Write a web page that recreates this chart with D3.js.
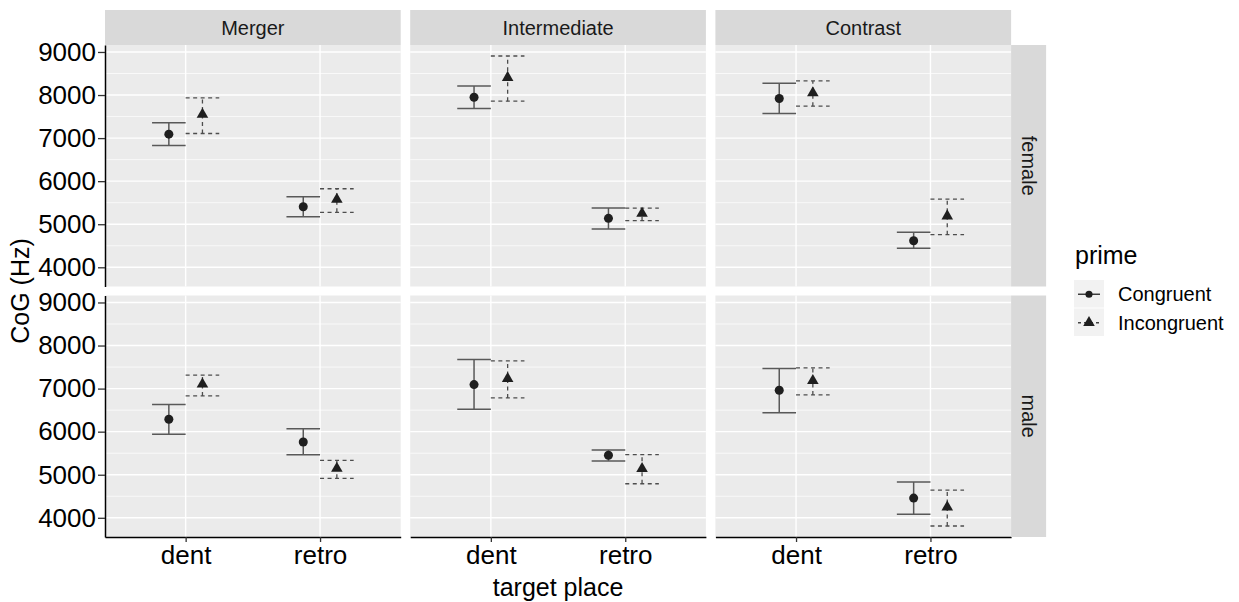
<!DOCTYPE html>
<html>
<head>
<meta charset="utf-8">
<script src="https://cdn.jsdelivr.net/npm/d3@7"></script>
<style>
  body { margin: 0; background: #fff; }
  svg text { font-family: "Liberation Sans", Arial, Helvetica, sans-serif; }
</style>
</head>
<body>
<div class="chart-area"></div>
<script>
// facets and categories
const conditions = ["Merger", "Intermediate", "Contrast"];
const sexes = ["female", "male"];
const places = ["dent", "retro"];
const primes = ["Congruent", "Incongruent"];
const yTicks = [4000, 5000, 6000, 7000, 8000, 9000];

// values ordered: female (Merger dent, Merger retro, Intermediate dent, Intermediate retro, Contrast dent, Contrast retro), then male
const congruentMean = [7092, 5406, 7950, 5137, 7920, 4618, 6288, 5760, 7093, 5451, 6963, 4458];
const congruentLow  = [6829, 5174, 7688, 4889, 7572, 4442, 5940, 5465, 6521, 5319, 6442, 4084];
const congruentHigh = [7354, 5638, 8212, 5376, 8274, 4813, 6628, 6070, 7674, 5574, 7465, 4830];
const incongruentMean = [7548, 5578, 8406, 5253, 8050, 5190, 7102, 5149, 7233, 5140, 7186, 4249];
const incongruentLow  = [7107, 5277, 7857, 5082, 7741, 4757, 6830, 4916, 6784, 4791, 6853, 3809];
const incongruentHigh = [7934, 5824, 8907, 5376, 8328, 5585, 7312, 5335, 7644, 5465, 7481, 4644];

const width = 1239;
const height = 602;

const marginLeft = 105, marginTop = 45;
const panelW = 295.7, panelH = 241.5;
const gapX = 9.5, gapY = 9;
const stripH = 35, stripW = 35;

const svg = d3.select(".chart-area")
    .append("svg")
    .attr("width", width)
    .attr("height", height);

// build rows
const rows = [];
sexes.forEach((sex, si) => {
    conditions.forEach((cond, ci) => {
        places.forEach((place, pi) => {
            const k = si * 6 + ci * 2 + pi;
            rows.push({sex: si, cond: ci, place: pi, prime: 0,
                mean: congruentMean[k], low: congruentLow[k], high: congruentHigh[k]});
            rows.push({sex: si, cond: ci, place: pi, prime: 1,
                mean: incongruentMean[k], low: incongruentLow[k], high: incongruentHigh[k]});
        });
    });
});

const yMin = d3.min(rows, d => d.low);
const yMax = d3.max(rows, d => d.high);
const pad = (yMax - yMin) * 0.05;

const x = d3.scaleLinear().domain([0.4, 2.6]).range([0, panelW]);
const y = d3.scaleLinear().domain([yMin - pad, yMax + pad]).range([panelH, 0]);

const dodge = 0.125;   // position_dodge
const barW = 0.25;     // errorbar width

const minorTicks = d3.range(4500, 9000, 1000);

sexes.forEach((sex, si) => {
    conditions.forEach((cond, ci) => {
        const px = marginLeft + ci * (panelW + gapX);
        const py = marginTop + si * (panelH + gapY);
        const g = svg.append("g").attr("transform", `translate(${px},${py})`);

        g.append("rect")
            .attr("width", panelW)
            .attr("height", panelH)
            .attr("fill", "#ebebeb");

        g.selectAll(".minor").data(minorTicks.filter(t => y(t) > 0 && y(t) < panelH))
            .enter().append("line")
            .attr("x1", 0).attr("x2", panelW)
            .attr("y1", d => y(d)).attr("y2", d => y(d))
            .attr("stroke", "#fff").attr("stroke-width", 0.7);

        g.selectAll(".major").data(yTicks)
            .enter().append("line")
            .attr("x1", 0).attr("x2", panelW)
            .attr("y1", d => y(d)).attr("y2", d => y(d))
            .attr("stroke", "#fff").attr("stroke-width", 1.4);

        g.selectAll(".vgrid").data(places)
            .enter().append("line")
            .attr("x1", (d, i) => x(i + 1)).attr("x2", (d, i) => x(i + 1))
            .attr("y1", 0).attr("y2", panelH)
            .attr("stroke", "#fff").attr("stroke-width", 1.4);

        const data = rows.filter(d => d.sex === si && d.cond === ci);

        // error bars
        data.forEach(d => {
            const cx = d.place + 1 + (d.prime === 0 ? -dodge : dodge);
            const dash = d.prime === 0 ? null : "4,3.5";
            const col = d.prime === 0 ? "#595959" : "#4d4d4d";
            const sw = d.prime === 0 ? 1.5 : 1.3;
            g.append("line")
                .attr("x1", x(cx)).attr("x2", x(cx))
                .attr("y1", y(d.low)).attr("y2", y(d.high))
                .attr("stroke", col).attr("stroke-width", sw)
                .attr("stroke-dasharray", dash);
            [d.low, d.high].forEach(v => {
                g.append("line")
                    .attr("x1", x(cx - barW / 2)).attr("x2", x(cx + barW / 2))
                    .attr("y1", y(v)).attr("y2", y(v))
                    .attr("stroke", col).attr("stroke-width", sw)
                    .attr("stroke-dasharray", dash);
            });
        });

        // points
        g.selectAll(".pt").data(data)
            .enter().append("path")
            .attr("transform", d => `translate(${x(d.place + 1 + (d.prime === 0 ? -dodge : dodge))},${y(d.mean)})`)
            .attr("d", d => d.prime === 0
                ? d3.symbol().type(d3.symbolCircle).size(64)()
                : d3.symbol().type(d3.symbolTriangle).size(58)())
            .attr("fill", "#1f1f1f");

        // y axis on first column
        if (ci === 0) {
            const ax = g.append("g")
                .call(d3.axisLeft(y).tickValues(yTicks).tickFormat(d3.format("d"))
                    .tickSize(7).tickSizeOuter(0).tickPadding(2));
            ax.select(".domain").attr("stroke", "#000").attr("stroke-width", 1.5);
            ax.selectAll(".tick line").attr("stroke", "#333").attr("stroke-width", 1.3);
            ax.selectAll(".tick text")
                .attr("font-size", 26).attr("fill", "#000")
                .attr("font-family", "Liberation Sans, Arial, sans-serif");
        }

        // x axis on bottom row
        if (si === sexes.length - 1) {
            const ax = g.append("g")
                .attr("transform", `translate(0,${panelH})`)
                .call(d3.axisBottom(x).tickValues([1, 2]).tickFormat(d => places[d - 1])
                    .tickSize(5).tickSizeOuter(0).tickPadding(4));
            ax.select(".domain").attr("stroke", "#000").attr("stroke-width", 1.5);
            ax.selectAll(".tick line").attr("stroke", "#333").attr("stroke-width", 1.3);
            ax.selectAll(".tick text")
                .attr("font-size", 26).attr("fill", "#000")
                .attr("font-family", "Liberation Sans, Arial, sans-serif");
        }

        // top strip
        if (si === 0) {
            svg.append("rect")
                .attr("x", px).attr("y", marginTop - stripH)
                .attr("width", panelW).attr("height", stripH)
                .attr("fill", "#d9d9d9");
            svg.append("text")
                .attr("x", px + panelW / 2).attr("y", marginTop - stripH / 2)
                .attr("text-anchor", "middle")
                .attr("dominant-baseline", "central")
                .attr("font-size", 20)
                .attr("fill", "#1a1a1a")
                .text(cond);
        }

        // right strip
        if (ci === conditions.length - 1) {
            svg.append("rect")
                .attr("x", px + panelW).attr("y", py)
                .attr("width", stripW).attr("height", panelH)
                .attr("fill", "#d9d9d9");
            svg.append("text")
                .attr("transform", `translate(${px + panelW + stripW / 2},${py + panelH / 2}) rotate(90)`)
                .attr("text-anchor", "middle")
                .attr("dominant-baseline", "central")
                .attr("font-size", 20)
                .attr("fill", "#1a1a1a")
                .text(sex);
        }
    });
});

// axis titles
const plotRight = marginLeft + 3 * panelW + 2 * gapX;
svg.append("text")
    .attr("x", (marginLeft + plotRight) / 2).attr("y", 596)
    .attr("text-anchor", "middle")
    .attr("font-size", 25)
    .text("target place");

svg.append("text")
    .attr("transform", `translate(29,${marginTop + panelH + gapY / 2}) rotate(-90)`)
    .attr("text-anchor", "middle")
    .attr("font-size", 25)
    .text("CoG (Hz)");

// legend
const legX = 1074, legY = 280, keyW = 30, keyH = 28.5;
svg.append("text")
    .attr("x", legX + 1).attr("y", 264)
    .attr("font-size", 25)
    .text("prime");

primes.forEach((p, i) => {
    const ky = legY + i * keyH;
    svg.append("rect")
        .attr("x", legX).attr("y", ky)
        .attr("width", keyW).attr("height", keyH - 1)
        .attr("fill", "#f2f2f2");
    svg.append("line")
        .attr("x1", legX + 4).attr("x2", legX + keyW - 4)
        .attr("y1", ky + keyH / 2).attr("y2", ky + keyH / 2)
        .attr("stroke", i === 0 ? "#333" : "#444")
        .attr("stroke-width", 1.4)
        .attr("stroke-dasharray", i === 0 ? null : "3,3");
    svg.append("path")
        .attr("transform", `translate(${legX + keyW / 2},${ky + keyH / 2})`)
        .attr("d", i === 0
            ? d3.symbol().type(d3.symbolCircle).size(40)()
            : d3.symbol().type(d3.symbolTriangle).size(58)())
        .attr("fill", "#1f1f1f");
    svg.append("text")
        .attr("x", 1118).attr("y", ky + keyH / 2)
        .attr("dominant-baseline", "central")
        .attr("font-size", 20)
        .text(p);
});
</script>
</body>
</html>
